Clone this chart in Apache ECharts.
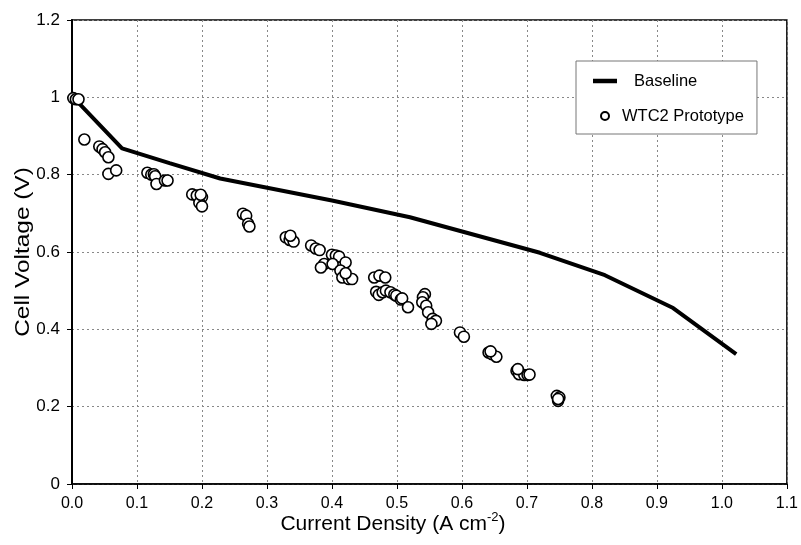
<!DOCTYPE html>
<html>
<head>
<meta charset="utf-8">
<script src="https://cdn.jsdelivr.net/npm/echarts@6/dist/echarts.min.js"></script>
<style>
  html, body { margin: 0; padding: 0; background: #fff; }
  #chart { width: 801px; height: 545px; }
</style>
</head>
<body>
<div id="chart"></div>
<script>
// 基线曲线 (A cm-2, V)
const baselineX = [0.005, 0.077, 0.15, 0.228, 0.40, 0.52, 0.72, 0.82, 0.925, 1.022];
const baselineY = [0.995, 0.868, 0.83, 0.79, 0.733, 0.69, 0.598, 0.54, 0.455, 0.336];

// WTC2 原型测试点
const protoX = [
  0.002, 0.006, 0.010, 0.019,
  0.042, 0.047, 0.051, 0.056, 0.056, 0.068,
  0.116, 0.122, 0.126, 0.128, 0.130, 0.143, 0.147,
  0.185, 0.192, 0.200, 0.196, 0.200, 0.198,
  0.263, 0.268, 0.271, 0.273,
  0.329, 0.335, 0.341, 0.336,
  0.368, 0.375, 0.381, 0.400, 0.406, 0.411,
  0.388, 0.383, 0.401, 0.421, 0.413, 0.416, 0.426, 0.431, 0.421,
  0.465, 0.473, 0.482,
  0.468, 0.472, 0.478, 0.483, 0.490, 0.496, 0.499, 0.506, 0.508, 0.517,
  0.543, 0.540, 0.539, 0.545, 0.548, 0.555, 0.560, 0.553,
  0.597, 0.603,
  0.641, 0.646, 0.653, 0.644,
  0.684, 0.688, 0.696, 0.701, 0.686, 0.704,
  0.746, 0.748, 0.750, 0.748
];
const protoY = [
  0.998, 0.995, 0.995, 0.891,
  0.873, 0.866, 0.858, 0.845, 0.802, 0.811,
  0.805, 0.800, 0.801, 0.796, 0.776, 0.785, 0.785,
  0.749, 0.746, 0.742, 0.727, 0.718, 0.748,
  0.699, 0.694, 0.673, 0.666,
  0.638, 0.631, 0.627, 0.642,
  0.617, 0.609, 0.605, 0.593, 0.591, 0.588,
  0.569, 0.560, 0.569, 0.573, 0.552, 0.534, 0.530, 0.530, 0.545,
  0.534, 0.539, 0.534,
  0.497, 0.489, 0.496, 0.500, 0.496, 0.490, 0.487, 0.477, 0.480, 0.457,
  0.491, 0.483, 0.470, 0.461, 0.444, 0.427, 0.422, 0.414,
  0.392, 0.381,
  0.340, 0.336, 0.329, 0.343,
  0.293, 0.284, 0.282, 0.282, 0.297, 0.283,
  0.228, 0.215, 0.224, 0.220
];

const seriesNames = ["Baseline", "WTC2 Prototype"];
const yTitle = "Cell Voltage (V)";
const xTitle = "{a|Current Density (A cm}{s|-2}{a|)}";

const font = "'Liberation Sans', Arial, sans-serif";

const chart = echarts.init(document.getElementById("chart"), null, { renderer: "canvas" });

chart.setOption({
  backgroundColor: "#fff",
  animation: false,
  textStyle: { fontFamily: font, color: "#000" },
  grid: {
    left: 72, right: 11, top: 20, bottom: 61,
    show: true, borderColor: "#000", borderWidth: 1.5
  },
  legend: {
    left: 576, top: 61,
    orient: "vertical",
    backgroundColor: "#fff",
    borderColor: "#777",
    borderWidth: 1,
    padding: [11, 13, 9, 17],
    itemWidth: 24,
    itemHeight: 8,
    itemGap: 17,
    textStyle: { fontSize: 16.5, color: "#000", fontFamily: font, lineHeight: 18 },
    data: [
      { name: seriesNames[0], icon: "path://M0,0L24,0L24,4.5L0,4.5Z",
        textStyle: { padding: [0, 0, 0, 12] } },
      { name: seriesNames[1] }
    ]
  },
  xAxis: {
    type: "value",
    min: 0, max: 1.1, interval: 0.1,
    axisLine: { show: true, lineStyle: { color: "#000", width: 1.5 } },
    axisTick: { show: true, inside: false, length: 5, lineStyle: { color: "#000" } },
    axisLabel: {
      fontSize: 16, color: "#000", margin: 12,
      formatter: v => v.toFixed(1)
    },
    splitLine: { show: true, lineStyle: { color: "#888", type: [2, 3], width: 1 } }
  },
  yAxis: {
    type: "value",
    min: 0, max: 1.2, interval: 0.2,
    axisLine: { show: true, lineStyle: { color: "#000", width: 2 } },
    axisTick: { show: true, inside: false, length: 5, lineStyle: { color: "#000" } },
    axisLabel: { fontSize: 17, color: "#000", margin: 12 },
    splitLine: { show: true, lineStyle: { color: "#888", type: [2, 3], width: 1 } }
  },
  graphic: [
    {
      type: "text",
      x: 393, y: 511,
      style: {
        text: xTitle,
        align: "center",
        verticalAlign: "top",
        fill: "#000",
        rich: {
          a: { fontSize: 21, fontFamily: font, lineHeight: 26, fill: "#000" },
          s: { fontSize: 13, fontFamily: font, lineHeight: 13, verticalAlign: "top", fill: "#000" }
        }
      }
    },
    {
      type: "text",
      x: 23, y: 252,
      rotation: Math.PI / 2,
      scaleX: 1.22,
      style: {
        text: yTitle,
        align: "center",
        verticalAlign: "middle",
        fontSize: 20,
        fontFamily: font,
        fill: "#000"
      }
    }
  ],
  series: [
    {
      name: seriesNames[0],
      type: "line",
      data: baselineX.map((x, i) => [x, baselineY[i]]),
      showSymbol: false,
      symbol: "none",
      lineStyle: { color: "#000", width: 4 },
      itemStyle: { color: "#000" },
      z: 2
    },
    {
      name: seriesNames[1],
      type: "scatter",
      data: protoX.map((x, i) => [x, protoY[i]]),
      symbol: "circle",
      symbolSize: 11,
      itemStyle: { color: "#fff", borderColor: "#000", borderWidth: 1.6, opacity: 1 },
      z: 3
    }
  ]
});
</script>
</body>
</html>
